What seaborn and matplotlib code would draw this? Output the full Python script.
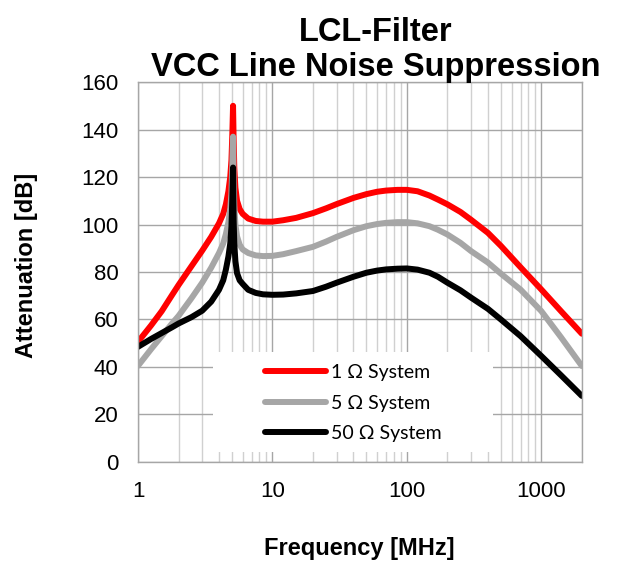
import numpy as np
import pandas as pd
import matplotlib
matplotlib.use("Agg")
import matplotlib.pyplot as plt
from matplotlib.patches import Rectangle
from matplotlib.ticker import FixedLocator, LogLocator, NullFormatter
import seaborn as sns

# frequency points in MHz (shared by all three curves)
freq = [1, 1.25, 1.5, 1.8, 2, 2.5, 3, 3.5, 4, 4.3, 4.5, 4.7, 4.85, 4.95, 5.02,
        5.09, 5.14, 5.2, 5.3, 5.45, 5.7, 6, 6.6, 7.5, 8.5, 10, 12, 15, 20, 25,
        30, 40, 50, 60, 70, 85, 100, 120, 147, 170, 200, 250, 300, 400, 500,
        700, 1000, 1400, 2000]

# attenuation in dB
att_1ohm = [50.6, 57.5, 63.5, 70.5, 74.5, 82.5, 89, 94.8, 100.5, 104.5, 108.5,
            114, 120, 127, 137, 150, 136, 124, 115.5, 110, 106.5, 104.5, 102.5,
            101.5, 101.2, 101.2, 101.8, 102.8, 104.8, 106.8, 108.6, 111.2,
            112.8, 113.8, 114.3, 114.6, 114.6, 114, 112.2, 110.5, 108.5, 105.3,
            102, 96.5, 91, 82, 72.6, 63.5, 54]
att_5ohm = [40.5, 47.5, 53, 58.5, 61.5, 69, 75.5, 81.8, 88, 92, 96, 101, 106.5,
            113, 124, 137, 120, 108, 100, 95, 91.5, 89.5, 88, 87, 86.7, 86.8,
            87.5, 88.8, 90.6, 92.8, 94.8, 97.6, 99.3, 100.2, 100.7, 101, 101,
            100.5, 99.3, 97.8, 95.8, 92.3, 88.8, 84, 79.3, 72.6, 63.5, 52.5,
            40.4]
att_50ohm = [48.5, 51.8, 54.3, 56.8, 58.3, 61, 63.7, 67.5, 72.5, 76.5, 81, 86.5,
             92, 99, 110, 124, 102, 92, 84.5, 79.5, 76.5, 75, 72.5, 71.2, 70.6,
             70.4, 70.5, 71, 72, 73.8, 75.5, 78, 79.7, 80.6, 81.1, 81.4, 81.5,
             81, 79.7, 78, 75.5, 72.3, 69.2, 64.5, 60, 53, 44.6, 36.5, 27.8]

series = ["1 Ω System", "5 Ω System", "50 Ω System"]
colors = ["#ff0000", "#a6a6a6", "#000000"]
xticks = [1, 10, 100, 1000]
yticks = [0, 20, 40, 60, 80, 100, 120, 140, 160]

df = pd.concat([
    pd.DataFrame({"Frequency": freq, "Attenuation": att_1ohm, "System": series[0]}),
    pd.DataFrame({"Frequency": freq, "Attenuation": att_5ohm, "System": series[1]}),
    pd.DataFrame({"Frequency": freq, "Attenuation": att_50ohm, "System": series[2]}),
])

sns.set_style("white")
plt.rcParams["font.family"] = ["Liberation Sans", "DejaVu Sans"]
plt.rcParams["text.color"] = "black"
plt.rcParams["axes.labelcolor"] = "black"

fig = plt.figure(figsize=(6.19, 5.62), dpi=100)
ax = fig.add_axes([0.223, 0.178, 0.717, 0.676])

sns.lineplot(data=df, x="Frequency", y="Attenuation", hue="System",
             palette=dict(zip(series, colors)), hue_order=series,
             linewidth=4.3, solid_capstyle="round", ax=ax)

ax.set_xscale("log")
ax.set_xlim(1, 2000)
ax.set_ylim(0, 160)
ax.xaxis.set_major_locator(FixedLocator(xticks))
ax.set_xticklabels([str(t) for t in xticks])
ax.xaxis.set_minor_locator(LogLocator(base=10, subs=np.arange(2, 10)))
ax.xaxis.set_minor_formatter(NullFormatter())
ax.set_yticks(yticks)

# gridlines like the spreadsheet chart
ax.set_axisbelow(True)
ax.grid(which="major", axis="both", color="#a6a6a6", linewidth=1)
ax.grid(which="minor", axis="x", color="#d0d0d0", linewidth=1)

for s in ax.spines.values():
    s.set_color("#a6a6a6")
    s.set_linewidth(1)

ax.tick_params(axis="both", which="major", length=7, width=1, color="#a6a6a6",
               labelcolor="black", labelsize=16, pad=7, direction="out")
ax.tick_params(axis="x", which="minor", length=0)

ax.set_xlabel("Frequency [MHz]", fontsize=17, fontweight="bold")
ax.set_ylabel("Attenuation [dB]", fontsize=17, fontweight="bold")
ax.xaxis.set_label_coords(0.498, -0.198)
ax.yaxis.set_label_coords(-0.225, 0.518)

ax.set_title("LCL-Filter\nVCC Line Noise Suppression", fontsize=23.5,
             fontweight="bold", x=0.536, pad=4, linespacing=1.2)

# white legend area covering the gridlines
ax.add_patch(Rectangle((0.169, 0.026), 0.631, 0.263, transform=ax.transAxes,
                       facecolor="white", edgecolor="none", zorder=1.5))

sns.move_legend(ax, "center", bbox_to_anchor=(0.486, 0.155), frameon=False,
                title=None, handlelength=3.1, handletextpad=0.3,
                labelspacing=0.7,
                prop={"family": ["Lato", "Noto Sans", "DejaVu Sans"], "size": 14})
leg = ax.get_legend()
for h in leg.get_lines():
    h.set_linewidth(4.3)
    h.set_solid_capstyle("round")

fig.savefig("out.png", dpi=100)
